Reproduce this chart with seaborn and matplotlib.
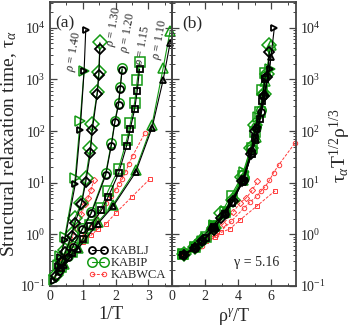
import matplotlib
matplotlib.use("Agg")
import matplotlib.pyplot as plt
import numpy as np
import pandas as pd
import seaborn as sns
from matplotlib.lines import Line2D
from matplotlib.ticker import LogLocator, MultipleLocator, NullFormatter

GAMMA = 5.16
DENSITIES = [1.40, 1.30, 1.20, 1.15, 1.10]
MARKERS = {1.40: ">", 1.30: "D", 1.20: "o", 1.15: "s", 1.10: "^"}

# values: 1/T and log10(tau_alpha)
INV_T_140 = [0.12, 0.245, 0.32, 0.45, 0.77, 0.92, 1.04, 1.09]
LOG_TAU_LJ_140 = [-0.90, -0.62, -0.44, -0.11, 0.97, 2.02, 3.17, 3.96]
INV_T_IP_140 = [0.12, 0.245, 0.32, 0.45, 0.77, 0.92, 1.04]
LOG_TAU_IP_140 = [-0.88, -0.60, -0.42, -0.05, 1.10, 2.20, 3.17]

INV_T_130 = [0.18, 0.36, 0.47, 0.66, 0.76, 0.96, 1.09, 1.23, 1.29, 1.44, 1.49, 1.52]
LOG_TAU_LJ_130 = [-0.81, -0.53, -0.34, -0.04, 0.22, 0.59, 1.01, 1.57, 2.02, 2.72, 3.09, 3.59]
LOG_TAU_IP_130 = [-0.79, -0.50, -0.31, 0.00, 0.32, 0.61, 1.10, 1.68, 2.13, 2.75, 3.15, 3.72]

INV_T_120 = [0.27, 0.54, 0.70, 0.99, 1.26, 1.70, 1.87, 1.98, 2.09, 2.14, 2.20]
LOG_TAU_LJ_120 = [-0.71, -0.43, -0.24, 0.10, 0.41, 1.15, 1.72, 2.18, 2.51, 2.82, 3.19]
LOG_TAU_IP_120 = [-0.69, -0.41, -0.22, 0.12, 0.44, 1.19, 1.76, 2.20, 2.55, 2.85, 3.22]

INV_T_115 = [0.335, 0.676, 1.01, 1.23, 1.57, 1.77, 2.09, 2.34, 2.45, 2.58, 2.66, 2.73]
LOG_TAU_LJ_115 = [-0.66, -0.37, -0.09, 0.16, 0.47, 0.72, 1.18, 1.72, 2.05, 2.42, 2.78, 3.20]
LOG_TAU_IP_115 = [-0.64, -0.35, -0.07, 0.19, 0.52, 0.84, 1.27, 1.83, 2.15, 2.55, 2.98, 3.33]

INV_T_110 = [0.42, 0.85, 1.45, 1.92, 2.61, 3.11, 3.45, 3.66]
LOG_TAU_LJ_110 = [-0.60, -0.28, 0.20, 0.54, 1.20, 2.06, 2.99, 3.70]
LOG_TAU_IP_110 = [-0.58, -0.26, 0.23, 0.57, 1.25, 2.12, 3.22, 3.93]

# KABWCA, only three densities shown
INV_T_WCA_130 = [0.20, 0.40, 0.60, 0.80, 0.96, 1.065, 1.16, 1.25, 1.335]
LOG_TAU_WCA_130 = [-0.80, -0.50, -0.20, 0.12, 0.39, 0.59, 0.70, 0.86, 1.05]
INV_T_WCA_120 = [0.35, 0.70, 1.05, 1.40, 1.70, 1.85, 2.00, 2.10, 2.20, 2.30, 2.40, 2.52, 2.90]
LOG_TAU_WCA_120 = [-0.62, -0.33, -0.03, 0.30, 0.60, 0.74, 0.86, 0.97, 1.07, 1.20, 1.36, 1.52, 1.97]
INV_T_WCA_115 = [0.35, 0.70, 1.00, 1.25, 1.45, 1.70, 2.00, 2.50, 3.04]
LOG_TAU_WCA_115 = [-0.65, -0.38, -0.14, -0.02, 0.10, 0.20, 0.41, 0.73, 1.07]

RHO_LABELS = ["$\\rho$ = 1.40", "$\\rho$ = 1.30", "$\\rho$ = 1.20", "$\\rho$ = 1.15", "$\\rho$ = 1.10"]
RHO_LABEL_X = [0.73, 1.97, 2.39, 2.85, 3.36]
RHO_LABEL_Y = [3400, 10500, 7900, 4470, 5900]

BLACK = "black"
GREEN = "#139a13"
RED = "#ff3b3b"
FRAME = "#444444"


def build_table() -> pd.DataFrame:
    series = [
        ("KABLJ", 1.40, INV_T_140, LOG_TAU_LJ_140),
        ("KABIP", 1.40, INV_T_IP_140, LOG_TAU_IP_140),
        ("KABLJ", 1.30, INV_T_130, LOG_TAU_LJ_130),
        ("KABIP", 1.30, INV_T_130, LOG_TAU_IP_130),
        ("KABLJ", 1.20, INV_T_120, LOG_TAU_LJ_120),
        ("KABIP", 1.20, INV_T_120, LOG_TAU_IP_120),
        ("KABLJ", 1.15, INV_T_115, LOG_TAU_LJ_115),
        ("KABIP", 1.15, INV_T_115, LOG_TAU_IP_115),
        ("KABLJ", 1.10, INV_T_110, LOG_TAU_LJ_110),
        ("KABIP", 1.10, INV_T_110, LOG_TAU_IP_110),
        ("KABWCA", 1.30, INV_T_WCA_130, LOG_TAU_WCA_130),
        ("KABWCA", 1.20, INV_T_WCA_120, LOG_TAU_WCA_120),
        ("KABWCA", 1.15, INV_T_WCA_115, LOG_TAU_WCA_115),
    ]
    frames = []
    for model, rho, inv_t, log_tau in series:
        frames.append(pd.DataFrame({
            "model": model,
            "rho": rho,
            "inv_T": inv_t,
            "tau": 10.0 ** np.array(log_tau),
        }))
    df = pd.concat(frames, ignore_index=True)
    # panel (b): density scaling of the same points
    df["scaled_T"] = df["rho"] ** GAMMA * df["inv_T"]
    df["scaled_tau"] = df["tau"] / np.sqrt(df["inv_T"]) * df["rho"] ** (1 / 3)
    return df


STYLE = {
    "KABWCA": dict(color=RED, markersize=3.2, markeredgewidth=0.7, linewidth=0.7, linestyle=(0, (3, 1.5)), zorder=2),
    "KABIP": dict(color=GREEN, markersize=6.8, markeredgewidth=1.1, linewidth=0.8, linestyle="-", zorder=3),
    "KABLJ": dict(color=BLACK, markersize=5.0, markeredgewidth=1.3, linewidth=0.8, linestyle="-", zorder=4),
}


def draw_panel(ax, df, x_col, y_col):
    for model in ["KABWCA", "KABIP", "KABLJ"]:
        for rho in DENSITIES:
            sub = df[(df["model"] == model) & (df["rho"] == rho)]
            if sub.empty:
                continue
            st = STYLE[model]
            sns.lineplot(
                data=sub, x=x_col, y=y_col, ax=ax, estimator=None, sort=False,
                legend=False, marker=MARKERS[rho], color=st["color"],
                markersize=st["markersize"], markeredgewidth=st["markeredgewidth"],
                markeredgecolor=st["color"], markerfacecolor="none",
                linewidth=st["linewidth"], linestyle=st["linestyle"],
                zorder=st["zorder"], clip_on=False,
            )


def style_axes(ax):
    ax.set_yscale("log")
    ax.set_ylim(0.1, 10 ** 4.5)
    ax.yaxis.set_major_locator(LogLocator(base=10, numticks=10))
    ax.yaxis.set_minor_locator(LogLocator(base=10, subs=np.arange(2, 10), numticks=20))
    ax.yaxis.set_minor_formatter(NullFormatter())
    ax.tick_params(which="both", direction="in", top=True, right=True, left=True, bottom=True,
                   color=FRAME, labelsize=10, pad=3)
    ax.tick_params(which="major", length=5, width=0.9)
    ax.tick_params(which="minor", length=2.5, width=0.7)
    for spine in ax.spines.values():
        spine.set_color(FRAME)
        spine.set_linewidth(1.3)
    ax.patch.set_alpha(0)


def main() -> None:
    sns.set_theme(style="ticks")
    plt.rcParams["font.family"] = ["Liberation Serif", "DejaVu Serif"]
    plt.rcParams["mathtext.fontset"] = "custom"
    plt.rcParams["mathtext.rm"] = "Liberation Serif"
    plt.rcParams["mathtext.it"] = "Liberation Serif:italic"
    plt.rcParams["mathtext.bf"] = "Liberation Serif:bold"

    df = build_table()

    fig = plt.figure(figsize=(3.53, 3.27), dpi=100)
    left, mid, right = 50 / 353, 172 / 353, 296 / 353
    bottom, top = 41 / 327, 325 / 327
    ax_a = fig.add_axes([left, bottom, mid - left, top - bottom])
    ax_b = fig.add_axes([mid, bottom, right - mid, top - bottom])

    draw_panel(ax_a, df, "inv_T", "tau")
    draw_panel(ax_b, df, "scaled_T", "scaled_tau")

    style_axes(ax_a)
    style_axes(ax_b)

    ax_a.set_xlim(0, 3.72)
    ax_a.xaxis.set_major_locator(MultipleLocator(1))
    ax_a.xaxis.set_minor_locator(MultipleLocator(0.5))
    ax_b.set_xlim(0, 7.5)
    ax_b.xaxis.set_major_locator(MultipleLocator(2))
    ax_b.xaxis.set_minor_locator(MultipleLocator(1))
    ax_b.tick_params(which="both", labelleft=False, labelright=True)

    ax_a.set_xlabel("1/T", fontsize=13, labelpad=2)
    ax_b.set_xlabel("ρ$^{γ}$/T", fontsize=13, labelpad=2)
    ax_a.set_ylabel("Structural relaxation time, τ$_{α}$", fontsize=14, labelpad=1)
    ax_b.set_ylabel("")
    fig.text(340 / 353, 1 - 146 / 327, "τ$_{α}$T$^{1/2}$ρ$^{1/3}$",
             rotation=90, ha="center", va="center", fontsize=14)

    ax_a.text(0.12, 0.925, "(a)", transform=ax_a.transAxes, fontsize=12.5, ha="center", va="center")
    ax_b.text(0.16, 0.925, "(b)", transform=ax_b.transAxes, fontsize=12.5, ha="center", va="center")
    ax_b.text(5.1, 0.28, "γ = 5.16", fontsize=10, ha="center", va="center")

    for label, x, y in zip(RHO_LABELS, RHO_LABEL_X, RHO_LABEL_Y):
        ax_a.text(x, y, label, rotation=80, fontsize=8.5, ha="center", va="center", zorder=6)

    handles = []
    labels = []
    for model in ["KABLJ", "KABIP", "KABWCA"]:
        st = STYLE[model]
        handles.append(Line2D([], [], color=st["color"], marker="o", markersize=st["markersize"],
                              markeredgewidth=st["markeredgewidth"], markerfacecolor="none",
                              linewidth=st["linewidth"], linestyle=st["linestyle"]))
        labels.append(model)
    ax_a.legend(handles, labels, loc="lower right", bbox_to_anchor=(1.0, -0.005), frameon=False,
                numpoints=2, handlelength=1.6, handletextpad=0.2, labelspacing=0.0,
                fontsize=9, borderaxespad=0.1)

    fig.savefig("out.png", dpi=100)
    plt.close(fig)


if __name__ == "__main__":
    main()
